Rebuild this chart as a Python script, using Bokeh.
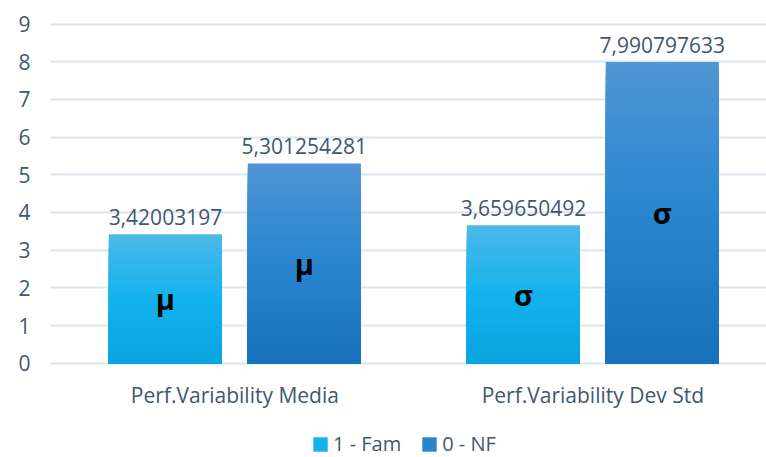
from bokeh.plotting import figure
from bokeh.models import ColumnDataSource, FactorRange, Legend, LegendItem, FixedTicker, Range1d
from bokeh.transform import dodge
from bokeh.core.properties import value
from bokeh.embed import file_html
from bokeh.resources import INLINE

# ---- data ----
categories = ["Perf.Variability Media", "Perf.Variability Dev Std"]
series_names = ["1 - Fam", "0 - NF"]
fam_values = [3.42003197, 3.659650492]
nf_values = [5.301254281, 7.990797633]
fam_labels = ["3,42003197", "3,659650492"]
nf_labels = ["5,301254281", "7,990797633"]
symbols = ["μ", "σ"]
y_ticks = [0, 1, 2, 3, 4, 5, 6, 7, 8, 9]

# ---- style ----
TEXT = "#3f5872"
FONT = "Open Sans"
fam_stops = ["#4cb9ea", "#13b2ec", "#0aa4de"]   # top, middle, bottom
nf_stops = ["#5095d4", "#2886cf", "#1871ba"]
N_SLICES = 40
SHIFT = 0.015
OFFSET = 0.194
BAR_W = 0.316


def hex2rgb(h):
    h = h.lstrip("#")
    return tuple(int(h[i:i + 2], 16) for i in (0, 2, 4))


def grad(stops, t):
    # t: 0 = top, 1 = bottom
    a, b, c = [hex2rgb(s) for s in stops]
    if t <= 0.5:
        u = t / 0.5
        lo, hi = a, b
    else:
        u = (t - 0.5) / 0.5
        lo, hi = b, c
    rgb = [round(lo[i] + (hi[i] - lo[i]) * u) for i in range(3)]
    return "#%02x%02x%02x" % tuple(rgb)


def slice_source(vals, stops):
    cats, tops, cols = [], [], []
    # tallest slice first so that shorter slices paint over it (no gaps)
    for k in range(N_SLICES, 0, -1):
        frac = k / N_SLICES
        t = 1 - (k - 0.5) / N_SLICES
        for c, v in zip(categories, vals):
            cats.append(c)
            tops.append(v * frac)
            cols.append(grad(stops, t))
    return ColumnDataSource(dict(cat=cats, top=tops, color=cols))


# frame spans down to the window bottom; the space below 0 holds the
# category labels and the legend
p = figure(
    width=766, height=457,
    x_range=FactorRange(*categories, range_padding=0),
    y_range=Range1d(-2.5, 9.04),
    output_backend="svg", toolbar_location=None,
    min_border_left=50, min_border_right=0, min_border_top=22, min_border_bottom=0,
)
p.outline_line_color = None
p.background_fill_color = "white"
p.border_fill_color = "white"
p.xaxis.visible = False

x_fam = dodge("cat", -OFFSET + SHIFT, range=p.x_range)
x_nf = dodge("cat", OFFSET + SHIFT, range=p.x_range)
x_cat = dodge("cat", SHIFT, range=p.x_range)

r_fam = p.vbar(x=x_fam, top="top", bottom=0, width=BAR_W,
               source=slice_source(fam_values, fam_stops), fill_color="color", line_color=None)
r_nf = p.vbar(x=x_nf, top="top", bottom=0, width=BAR_W,
              source=slice_source(nf_values, nf_stops), fill_color="color", line_color=None)

lab = ColumnDataSource(dict(cat=categories, fam=fam_values, nf=nf_values,
                            fam_lab=fam_labels, nf_lab=nf_labels,
                            fam_half=[v / 2 for v in fam_values],
                            nf_half=[v / 2 for v in nf_values],
                            sym=symbols, zero=[0] * len(categories)))

p.text(x=x_fam, y="fam", text="fam_lab", source=lab,
       text_align="center", text_baseline="alphabetic", y_offset=-17,
       text_font=value(FONT), text_font_size="21px", text_color=TEXT)
p.text(x=x_nf, y="nf", text="nf_lab", source=lab,
       text_align="center", text_baseline="alphabetic", y_offset=-17,
       text_font=value(FONT), text_font_size="21px", text_color=TEXT)
p.text(x=x_fam, y="fam_half", text="sym", source=lab,
       text_align="center", text_baseline="middle",
       text_font=value(FONT), text_font_size="29px", text_font_style="bold", text_color="black")
p.text(x=x_nf, y="nf_half", text="sym", source=lab,
       text_align="center", text_baseline="middle",
       text_font=value(FONT), text_font_size="29px", text_font_style="bold", text_color="black")
# category labels
p.text(x=x_cat, y="zero", text="cat", source=lab,
       text_align="center", text_baseline="middle", y_offset=32,
       text_font=value(FONT), text_font_size="21px", text_color=TEXT)

# grid
p.xgrid.grid_line_color = None
p.ygrid.grid_line_color = "#dde6ef"
p.ygrid.grid_line_width = 2
p.ygrid.level = "underlay"

# y axis
p.yaxis.ticker = FixedTicker(ticks=y_ticks)
p.yaxis.axis_line_color = None
p.yaxis.major_tick_line_color = None
p.yaxis.minor_tick_line_color = None
p.yaxis.major_label_text_font = FONT
p.yaxis.major_label_text_font_size = "21px"
p.yaxis.major_label_text_color = TEXT
p.yaxis.major_label_standoff = 14

legend = Legend(
    items=[LegendItem(label=series_names[0], renderers=[r_fam], index=N_SLICES),
           LegendItem(label=series_names[1], renderers=[r_nf], index=N_SLICES)],
    orientation="horizontal", location=(261, 0),
    glyph_width=18, glyph_height=18, label_standoff=4, spacing=19,
    label_text_font=FONT, label_text_font_size="20px", label_text_color=TEXT,
    border_line_color=None, background_fill_alpha=0, padding=0, margin=0,
)
p.add_layout(legend, "center")

open("out.html", "w").write(file_html(p, INLINE))
